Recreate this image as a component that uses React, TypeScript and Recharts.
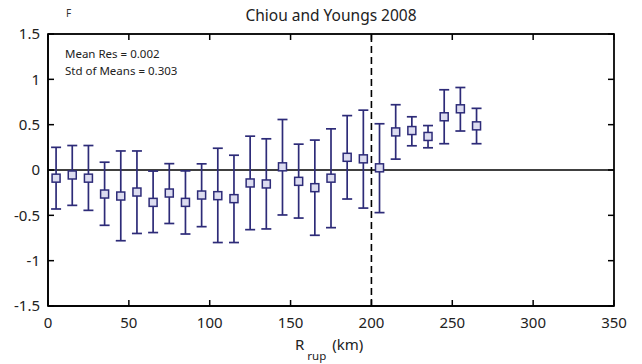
import React from 'react';
import { ComposedChart, Scatter, XAxis, YAxis, ErrorBar, ReferenceLine, ReferenceArea } from 'recharts';

// Rupture-distance bins (km) and binned mean residuals with their +/- one std bounds
const distances = [5, 15, 25, 35, 45, 55, 65, 75, 85, 95, 105, 115, 125, 135, 145, 155, 165, 175, 185, 195, 205, 215, 225, 235, 245, 255, 265];
const meanResidual = [-0.09, -0.055, -0.09, -0.265, -0.287, -0.243, -0.357, -0.254, -0.357, -0.276, -0.283, -0.316, -0.143, -0.154, 0.035, -0.125, -0.195, -0.09, 0.14, 0.123, 0.024, 0.42, 0.435, 0.37, 0.587, 0.675, 0.487];
const upperBound = [0.25, 0.27, 0.27, 0.086, 0.21, 0.21, -0.012, 0.07, -0.01, 0.068, 0.24, 0.163, 0.373, 0.344, 0.557, 0.285, 0.33, 0.454, 0.6, 0.66, 0.51, 0.72, 0.587, 0.49, 0.885, 0.91, 0.68];
const lowerBound = [-0.43, -0.39, -0.445, -0.61, -0.78, -0.7, -0.69, -0.59, -0.706, -0.625, -0.8, -0.8, -0.658, -0.65, -0.496, -0.53, -0.72, -0.636, -0.32, -0.42, -0.47, 0.12, 0.267, 0.245, 0.29, 0.43, 0.29];

const xTicks = [0, 50, 100, 150, 200, 250, 300, 350];
const yTicks = [-1.5, -1, -0.5, 0, 0.5, 1, 1.5];
const yTickLabels = ['-1.5', '-1', '-0.5', '0', '0.5', '1', '1.5'];
const xDomain = [0, 350];
const yDomain = [-1.5, 1.5];
const cutoffDistance = 200;

const titleText = 'Chiou and Youngs 2008';
const panelLetter = 'F';
const statLines = ['Mean Res = 0.002', 'Std of Means = 0.303'];

const rows = distances.map((x, i) => ({
  x,
  mean: meanResidual[i],
  err: [meanResidual[i] - lowerBound[i], upperBound[i] - meanResidual[i]],
}));

const WIDTH = 642;
const HEIGHT = 364;
const MARGIN = { top: 34, right: 28, bottom: 28, left: 0 };
const Y_AXIS_W = 48;
const X_AXIS_H = 30;
const PLOT_LEFT = MARGIN.left + Y_AXIS_W;
const PLOT_TOP = MARGIN.top;
const PLOT_RIGHT = WIDTH - MARGIN.right;
const PLOT_BOTTOM = HEIGHT - MARGIN.bottom - X_AXIS_H;

const FONT = '"Noto Sans", "Open Sans", sans-serif';
const NAVY = '#2d2b78';
const INK = '#000';
const TICK_LEN = 6;
const TICK_W = 1.5;
const FRAME_LINE = { stroke: INK, strokeWidth: 1.3 };

const SquareMarker = (props: any) => {
  const { cx, cy } = props;
  if (cx == null || cy == null) return null;
  return <rect x={cx - 4} y={cy - 4} width={8} height={8} fill="#dcdcf0" stroke={NAVY} strokeWidth={1.5} />;
};

// Axis ticks point inward on all four sides of the box (MATLAB style)
const LeftTick = (props: any) => {
  const { x, y, payload } = props;
  return (
    <g>
      <line x1={x} x2={x + TICK_LEN} y1={y} y2={y} stroke={INK} strokeWidth={TICK_W} />
      <line x1={PLOT_RIGHT} x2={PLOT_RIGHT - TICK_LEN} y1={y} y2={y} stroke={INK} strokeWidth={TICK_W} />
      <text x={x - 8} y={y} dy="0.36em" textAnchor="end" fill="#222" fontFamily={FONT} fontSize={15}>
        {yTickLabels[yTicks.indexOf(payload.value)] ?? String(payload.value)}
      </text>
    </g>
  );
};
const BottomTick = (props: any) => {
  const { x, y, payload } = props;
  return (
    <g>
      <line x1={x} x2={x} y1={y} y2={y - TICK_LEN} stroke={INK} strokeWidth={TICK_W} />
      <line x1={x} x2={x} y1={PLOT_TOP} y2={PLOT_TOP + TICK_LEN} stroke={INK} strokeWidth={TICK_W} />
      <text x={x} y={y + 22} textAnchor="middle" fill="#222" fontFamily={FONT} fontSize={15}>
        {String(payload.value)}
      </text>
    </g>
  );
};

const DistanceLabel = (props: any) => {
  const vb = props.viewBox || {};
  const cx = vb.x + vb.width / 2;
  return (
    <text x={cx - 36} y={350} fill="#222" fontFamily={FONT} fontSize={15}>
      <tspan>R</tspan>
      <tspan dx={3} dy={10} fontSize={11.5}>rup</tspan>
      <tspan dx={6} dy={-10}>(km)</tspan>
    </text>
  );
};

export default function App() {
  return (
    <div style={{ position: 'absolute', left: 0, top: 0, width: WIDTH, height: HEIGHT, background: '#fff' }}>
      <ComposedChart width={WIDTH} height={HEIGHT} data={rows} margin={MARGIN}>
        <XAxis
          dataKey="x"
          type="number"
          domain={xDomain}
          ticks={xTicks}
          height={X_AXIS_H}
          tickSize={0}
          tickMargin={0}
          tickLine={false}
          tick={<BottomTick />}
          axisLine={FRAME_LINE}
          label={<DistanceLabel />}
        />
        <YAxis
          type="number"
          domain={yDomain}
          ticks={yTicks}
          width={Y_AXIS_W}
          tickSize={0}
          tickMargin={0}
          tickLine={false}
          tick={<LeftTick />}
          axisLine={FRAME_LINE}
        />
        <ReferenceArea
          x1={xDomain[0]}
          x2={xDomain[1]}
          y1={yDomain[0]}
          y2={yDomain[1]}
          fill="none"
          fillOpacity={0}
          stroke={INK}
          strokeWidth={1.3}
          strokeOpacity={1}
          ifOverflow="visible"
        />
        <ReferenceLine y={0} stroke={INK} strokeWidth={1.6} />
        <ReferenceLine x={cutoffDistance} stroke={INK} strokeWidth={1.6} strokeDasharray="7 4" />
        <Scatter dataKey="mean" shape={<SquareMarker />} isAnimationActive={false}>
          <ErrorBar dataKey="err" direction="y" width={5} stroke={NAVY} strokeWidth={1.7} isAnimationActive={false} />
        </Scatter>
      </ComposedChart>
      <svg width={WIDTH} height={HEIGHT} style={{ position: 'absolute', left: 0, top: 0, pointerEvents: 'none' }}>
        {/* plotting-box outline, from the chart's layout constants */}
        <rect
          x={PLOT_LEFT}
          y={PLOT_TOP}
          width={PLOT_RIGHT - PLOT_LEFT}
          height={PLOT_BOTTOM - PLOT_TOP}
          fill="none"
          stroke={INK}
          strokeWidth={1.3}
        />
        <text x={66} y={17} fontFamily={FONT} fontSize={10} fill="#333">{panelLetter}</text>
        <text x={331} y={21} textAnchor="middle" fontFamily={FONT} fontSize={15.5} fill="#222">{titleText}</text>
        <text x={65} y={58} fontFamily={FONT} fontSize={11.5} fill="#222">{statLines[0]}</text>
        <text x={65} y={75} fontFamily={FONT} fontSize={11.5} fill="#222">{statLines[1]}</text>
      </svg>
    </div>
  );
}
